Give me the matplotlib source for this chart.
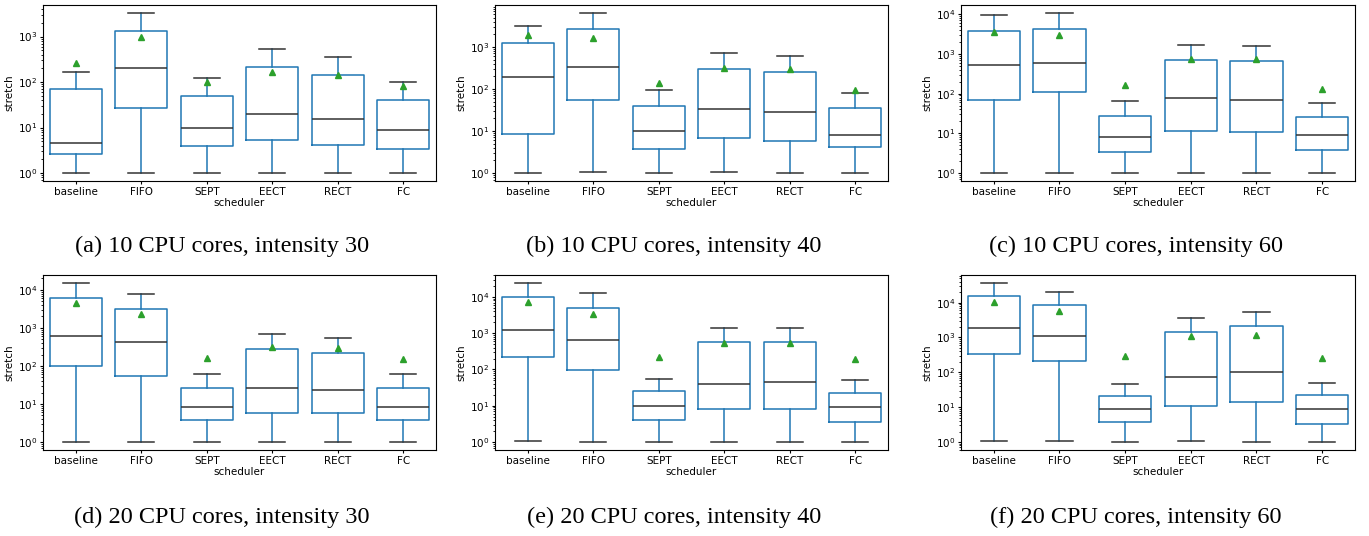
import numpy as np
import matplotlib.pyplot as plt

###############################################################################
SCHEDULERS = ['baseline', 'FIFO', 'SEPT', 'EECT', 'RECT', 'FC']
CAPTIONS = ['(a) 10 CPU cores, intensity 30', '(b) 10 CPU cores, intensity 40',
            '(c) 10 CPU cores, intensity 60', '(d) 20 CPU cores, intensity 30',
            '(e) 20 CPU cores, intensity 40', '(f) 20 CPU cores, intensity 60']

# one row per panel (a..f), one column per scheduler
whislo = [[1, 1, 1, 1, 1, 1],
          [1, 1.04, 1, 1.04, 1, 1],
          [1, 1, 1, 1, 1, 1],
          [1, 1, 1, 1, 1, 1],
          [1.09, 1, 1, 1, 1, 1],
          [1.09, 1.1, 1, 1.04, 1, 1]]
q1 = [[2.6, 27, 3.9, 5.2, 4.1, 3.45],
      [8.3, 56, 3.8, 6.9, 5.7, 4.1],
      [71, 109, 3.3, 11.6, 10.5, 3.76],
      [102, 53, 3.7, 5.7, 5.8, 3.9],
      [220, 99, 4.0, 8.3, 8.3, 3.5],
      [335, 215, 3.7, 10.8, 14, 3.29]]
med = [[4.6, 200, 10, 20, 15.4, 8.9],
       [188, 340, 9.8, 34, 28.4, 8.1],
       [530, 595, 8.3, 78, 71, 9.2],
       [630, 435, 8.5, 26.3, 23.3, 8.5],
       [1260, 650, 9.8, 40, 44, 9.0],
       [1870, 1120, 8.9, 75, 102, 9.06]]
q3 = [[70, 1300, 50, 213, 140, 41],
      [1270, 2600, 40, 293, 252, 34.7],
      [3800, 4340, 28, 695, 655, 25.8],
      [6150, 3100, 27, 274, 220, 27],
      [10000, 5100, 25, 560, 560, 22],
      [15200, 8400, 20.4, 1440, 2100, 21.8]]
whishi = [[170, 3300, 120, 525, 350, 98],
          [3200, 6400, 95, 735, 620, 81],
          [9600, 10800, 66, 1730, 1630, 59],
          [15200, 7700, 60, 680, 535, 60],
          [24300, 12600, 56, 1370, 1420, 52],
          [36700, 20700, 46, 3550, 5300, 49.4]]
means = [[260, 1000, 100, 165, 142, 81],
         [1900, 1670, 135, 315, 290, 94],
         [3640, 3000, 165, 765, 765, 133],
         [4550, 2330, 162, 315, 303, 150],
         [7100, 3470, 217, 550, 550, 190],
         [10200, 5630, 300, 1080, 1170, 252]]
###############################################################################
W, H = 1369, 536
fig = plt.figure(figsize=(W / 100, H / 100), dpi=100)

# axes boxes in pixels: left, top, right, bottom
LEFTS = [43, 495, 961]
RIGHTS = [436, 888, 1355]
TOPS = [5, 275]
BOTTOMS = [181, 450]
CAP_X = [222, 674, 1136]
CAP_Y = [246, 517]

blue = '#1f77b4'
dark = '#333333'
for p in range(6):
    row, col = p // 3, p % 3
    l, r = LEFTS[col], RIGHTS[col]
    t, b = TOPS[row], BOTTOMS[row]
    ax = fig.add_axes([l / W, 1 - b / H, (r - l) / W, (b - t) / H])

    stats = []
    for i, name in enumerate(SCHEDULERS):
        stats.append(dict(label=name, whislo=whislo[p][i], q1=q1[p][i],
                          med=med[p][i], q3=q3[p][i], whishi=whishi[p][i],
                          mean=means[p][i], fliers=[]))
    ax.bxp(stats, widths=0.8, showmeans=True, showfliers=False,
           boxprops=dict(color=blue, linewidth=1.1),
           whiskerprops=dict(color=blue, linewidth=1.1),
           capprops=dict(color=dark, linewidth=1.1),
           medianprops=dict(color=dark, linewidth=1.1),
           meanprops=dict(marker='^', markerfacecolor='#2ca02c',
                          markeredgecolor='#2ca02c', markersize=5))
    ax.set_yscale('log')
    ax.tick_params(which='major', labelsize=7.5, length=2, pad=2.3)
    ax.tick_params(which='minor', length=1.2)
    ax.set_xlabel('scheduler', fontsize=7.5, labelpad=1)
    ax.set_ylabel('stretch', fontsize=7.5, labelpad=2)

    fig.text(CAP_X[col] / W, 1 - CAP_Y[row] / H, CAPTIONS[p],
             family='Liberation Serif', fontsize=17.5,
             ha='center', va='center')

plt.savefig('out.png', dpi=100)
